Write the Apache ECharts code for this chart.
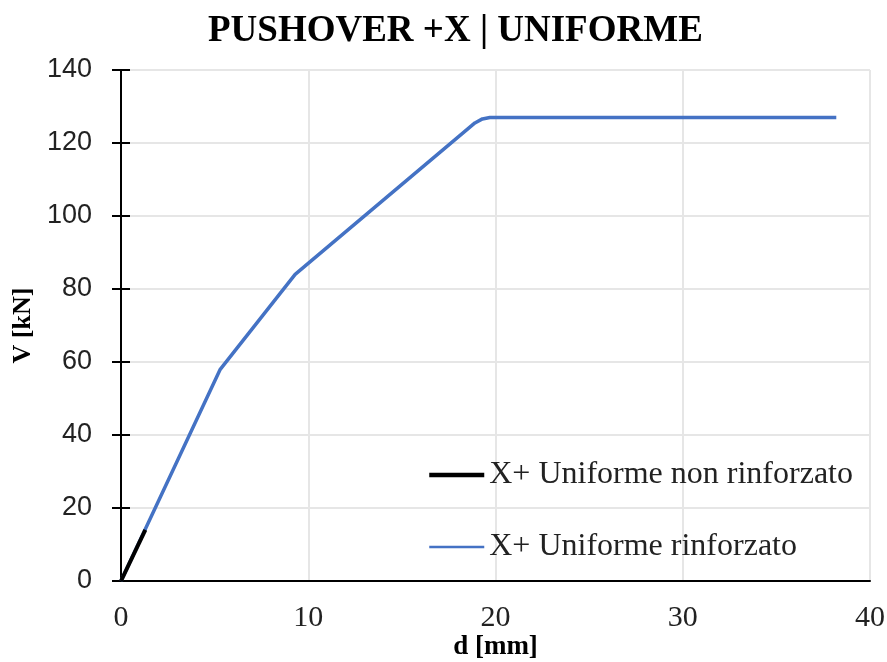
<!DOCTYPE html>
<html>
<head>
<meta charset="utf-8">
<script src="https://cdn.jsdelivr.net/npm/echarts@6/dist/echarts.min.js"></script>
<style>html,body{margin:0;padding:0;background:#fff}#c{width:887px;height:662px}</style>
</head>
<body>
<div id="c"></div>
<script>
const titleText = 'PUSHOVER +X | UNIFORME';
const seriesNames = ['X+ Uniforme non rinforzato', 'X+ Uniforme rinforzato'];
const nonRinfD = [0, 1.3];
const nonRinfV = [0, 14];
const rinfD = [0, 5.3, 9.3, 18.9, 19.3, 19.7, 38.2];
const rinfV = [0, 58, 84, 125.5, 126.6, 127, 127];

const chart = echarts.init(document.getElementById('c'), null, {renderer: 'canvas'});
const serif = '"Liberation Serif", "Times New Roman", serif';
const yTicks = {
  type: 'value', min: 0, max: 140, interval: 20, position: 'left',
  axisLine: {show: false}, axisLabel: {show: false}, splitLine: {show: false},
  axisTick: {show: true, inside: true, length: 9, lineStyle: {color: '#000', width: 2}}
};
chart.setOption({
  animation: false,
  backgroundColor: '#fff',
  title: {
    text: titleText, left: 203, top: 8,
    textStyle: {fontFamily: serif, fontWeight: 'bold', fontSize: 37, color: '#000'}
  },
  grid: {left: 121, right: 17, top: 70, bottom: 81, containLabel: false, outerBoundsMode: 'none'},
  legend: {
    orient: 'vertical', left: 422, top: 452, itemGap: 36,
    itemWidth: 55, itemHeight: 14,
    data: [
      {name: seriesNames[0], lineStyle: {width: 4.5, color: '#000'}, itemStyle: {opacity: 0}},
      {name: seriesNames[1], lineStyle: {width: 2.5, color: '#4472c4'}, itemStyle: {opacity: 0}}
    ],
    textStyle: {fontFamily: serif, fontSize: 32, lineHeight: 36, color: '#222'}
  },
  xAxis: {
    type: 'value', min: 0, max: 40, interval: 10,
    name: 'd [mm]', nameLocation: 'middle', nameGap: 53, nameMoveOverlap: false,
    nameTextStyle: {fontFamily: serif, fontWeight: 'bold', fontSize: 27, color: '#000'},
    axisLine: {show: true, lineStyle: {color: '#000', width: 2}},
    axisTick: {show: false},
    axisLabel: {fontFamily: serif, fontSize: 30, color: '#222', margin: 22},
    splitLine: {show: true, lineStyle: {color: '#e6e6e6', width: 2}}
  },
  yAxis: [{
    type: 'value', min: 0, max: 140, interval: 20,
    name: 'V [kN]', nameLocation: 'middle', nameGap: 85, nameMoveOverlap: false,
    nameTextStyle: {fontFamily: serif, fontWeight: 'bold', fontSize: 26, color: '#000'},
    axisLine: {show: true, lineStyle: {color: '#000', width: 2}},
    axisTick: {show: true, inside: false, length: 9, lineStyle: {color: '#000', width: 2}},
    axisLabel: {fontFamily: '"Liberation Sans", Arial, sans-serif', fontSize: 27, color: '#222', margin: 29},
    splitLine: {show: true, lineStyle: {color: '#e6e6e6', width: 2}}
  }, yTicks],
  series: [
    {
      name: seriesNames[1], type: 'line', symbol: 'none', z: 2,
      data: rinfD.map((d, i) => [d, rinfV[i]]),
      lineStyle: {color: '#4472c4', width: 3.5}, itemStyle: {color: '#4472c4'}
    },
    {
      name: seriesNames[0], type: 'line', symbol: 'none', z: 3,
      data: nonRinfD.map((d, i) => [d, nonRinfV[i]]),
      lineStyle: {color: '#000', width: 4}, itemStyle: {color: '#000'}
    }
  ]
});
</script>
</body>
</html>
